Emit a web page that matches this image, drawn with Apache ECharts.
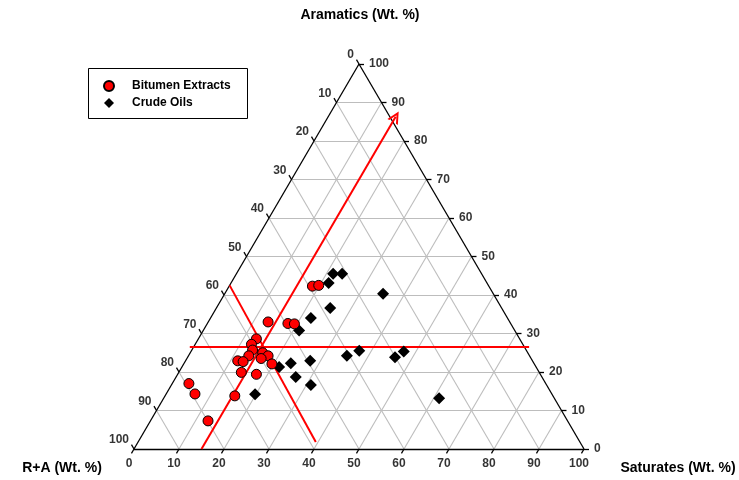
<!DOCTYPE html>
<html><head><meta charset="utf-8">
<script src="https://cdn.jsdelivr.net/npm/echarts@6/dist/echarts.min.js"></script>
<style>html,body{margin:0;padding:0;background:#fff}#c{width:739px;height:480px}</style>
</head><body><div id="c"></div>
<script>
// ---- data (ternary %: Saturates, Aromatics; R+A = 100 - Sat - Aro) ----
const tickValues = [0, 10, 20, 30, 40, 50, 60, 70, 80, 90, 100];
const bitumenSat = [18.5, 19.8, 13.3, 17.9, 19.4, 12.9, 12.5, 13.5, 16.1, 13.4, 17.7, 16.5, 11.6, 12.9, 19.6, 13.9, 17.5, 3.7, 6.4, 15.5, 12.8];
const bitumenAro = [42.3, 42.5, 33.0, 32.6, 32.5, 28.6, 27.2, 25.7, 25.0, 24.2, 24.2, 23.5, 22.9, 22.7, 22.1, 19.9, 19.4, 17.0, 14.3, 13.8, 7.3];
const crudeSat = [21.5, 23.5, 21.7, 35.2, 25.3, 22.3, 21.3, 37.3, 35.2, 47.3, 46.1, 23.7, 27.7, 21.6, 26.6, 31.0, 19.8, 61.2];
const crudeAro = [45.5, 45.5, 43.1, 40.3, 36.6, 34.0, 30.8, 25.5, 24.2, 25.3, 23.8, 22.3, 22.9, 21.3, 18.7, 16.6, 14.2, 13.2];
// red guide lines, endpoints as [Sat, Aro]
const guideAroLine = [[-0.9, 26.6], [74.5, 26.6]];
const guideSatArrow = [[15, 0], [15, 86.3]];
const guideRaLine = [[0, 42.5], [39.5, 1.8]];

// ---- ternary -> cartesian (x: 0..100 along base, y: aromatics) ----
function tx(s, a) { return [s + a / 2, a]; }
const FONT = 'Liberation Sans, Arial, sans-serif';

const gridSegs = [];
tickValues.filter(v => v > 0 && v < 100).forEach(v => {
  gridSegs.push({coords: [tx(0, v), tx(100 - v, v)]});          // constant aromatics
  gridSegs.push({coords: [tx(v, 0), tx(v, 100 - v)]});          // constant saturates
  const r = v;
  gridSegs.push({coords: [tx(100 - r, 0), tx(0, 100 - r)]});    // constant R+A
});
const border = [
  {coords: [tx(0, 0), tx(100, 0)]},
  {coords: [tx(100, 0), tx(0, 100)]},
  {coords: [tx(0, 100), tx(0, 0)]}
];
const tickSegs = [];
tickValues.forEach(v => {
  const b = tx(v, 0); tickSegs.push({coords: [b, [b[0] - 0.56, b[1] - 1.12]]});
  const rr = tx(100 - v, v); tickSegs.push({coords: [rr, [rr[0] + 1.11, rr[1]]]});
  const l = tx(0, 100 - v); tickSegs.push({coords: [l, [l[0] - 0.56, l[1] + 1.12]]});
});

const bottomLabels = tickValues.map(v => tx(v, 0).concat([v]));
const rightLabels = tickValues.map(v => tx(100 - v, v).concat([v]));
const leftLabels = tickValues.map(v => tx(0, 100 - v).concat([v]));

const tickLabelStyle = {fontFamily: FONT, fontWeight: 'bold', fontSize: 12, color: '#000', textBorderWidth: 0};
function labelSeries(data, align, offset) {
  return {
    type: 'scatter', data: data, symbolSize: 1, silent: true, z: 5, clip: false,
    itemStyle: {color: 'rgba(0,0,0,0)'},
    label: Object.assign({show: true, position: 'inside', align: align, verticalAlign: 'middle',
      offset: offset, formatter: p => String(p.value[2])}, tickLabelStyle)
  };
}

const chart = echarts.init(document.getElementById('c'), null, {renderer: 'canvas'});
chart.setOption({
  animation: false,
  backgroundColor: '#fff',
  grid: {left: 134, right: 155, top: 64, bottom: 31},
  xAxis: {type: 'value', min: 0, max: 100, show: false},
  yAxis: {type: 'value', min: 0, max: 100, show: false},
  legend: {
    data: ['Bitumen Extracts', 'Crude Oils'], orient: 'vertical', left: 98, top: 75,
    itemWidth: 10, itemHeight: 10, itemGap: 5,
    textStyle: {fontFamily: FONT, fontWeight: 'bold', fontSize: 12, color: '#000', padding: [0, 0, 0, 13]}
  },
  graphic: [
    {type: 'rect', shape: {x: 88.5, y: 68.5, width: 159, height: 50}, style: {fill: 'none', stroke: '#000', lineWidth: 1}, z: 10},
    {type: 'text', x: 360, y: 15, style: {text: 'Aramatics (Wt. %)', font: 'bold 14px ' + FONT, textAlign: 'center', textVerticalAlign: 'middle', fill: '#000'}},
    {type: 'text', x: 62, y: 468, style: {text: 'R+A (Wt. %)', font: 'bold 14px ' + FONT, textAlign: 'center', textVerticalAlign: 'middle', fill: '#000'}},
    {type: 'text', x: 678, y: 468, style: {text: 'Saturates (Wt. %)', font: 'bold 14px ' + FONT, textAlign: 'center', textVerticalAlign: 'middle', fill: '#000'}}
  ],
  series: [
    {type: 'lines', coordinateSystem: 'cartesian2d', data: gridSegs, silent: true, z: 1, clip: false,
      lineStyle: {color: '#bdbdbd', width: 1.1, opacity: 1}},
    {type: 'lines', coordinateSystem: 'cartesian2d', data: border.concat(tickSegs), silent: true, z: 2, clip: false,
      lineStyle: {color: '#000', width: 1.3, opacity: 1}},
    {type: 'lines', coordinateSystem: 'cartesian2d', silent: true, z: 3, clip: false,
      data: [{coords: [tx.apply(null, guideAroLine[0]), tx.apply(null, guideAroLine[1])]},
             {coords: [tx.apply(null, guideRaLine[0]), tx.apply(null, guideRaLine[1])]}],
      lineStyle: {color: '#ff0000', width: 2, opacity: 1}},
    {type: 'lines', coordinateSystem: 'cartesian2d', silent: true, z: 3, clip: false,
      symbol: ['none', 'path://M0,10 L5,0 L10,10 L8.2,10 L5,3.6 L1.8,10 Z'], symbolSize: 12,
      data: [{coords: [tx.apply(null, guideSatArrow[0]), tx.apply(null, guideSatArrow[1])]}],
      lineStyle: {color: '#ff0000', width: 2, opacity: 1}},
    labelSeries(bottomLabels, 'center', [-5, 15]),
    labelSeries(rightLabels, 'left', [10, 0]),
    labelSeries(leftLabels, 'right', [-5, -9]),
    {name: 'Crude Oils', type: 'scatter', z: 6, symbol: 'diamond', symbolSize: 12,
      data: crudeSat.map((s, i) => tx(s, crudeAro[i])),
      itemStyle: {color: '#000', opacity: 1}},
    {name: 'Bitumen Extracts', type: 'scatter', z: 7, symbol: 'circle', symbolSize: 10,
      data: bitumenSat.map((s, i) => tx(s, bitumenAro[i])),
      itemStyle: {color: '#ff0000', borderColor: '#000', borderWidth: 1, opacity: 1}}
  ]
});
</script></body></html>
